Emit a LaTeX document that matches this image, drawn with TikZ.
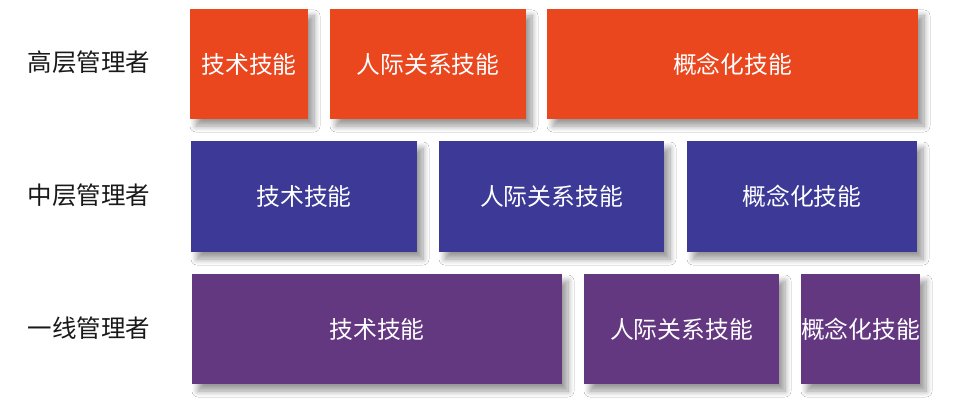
\documentclass[tikz,border=0pt]{standalone}
\usepackage{fontspec}
\setmainfont{Noto Sans CJK SC}
\newfontfamily\cjk{Noto Sans CJK SC}
\usetikzlibrary{shadows.blur}
\definecolor{topc}{HTML}{EA471F}
\definecolor{midc}{HTML}{3C3A96}
\definecolor{lowc}{HTML}{633880}
\tikzset{
  skill/.style={rectangle, inner sep=0pt, text=white, font=\cjk\fontsize{23.8}{28}\selectfont,
    blur shadow={shadow xshift=6pt, shadow yshift=-7pt, shadow blur steps=10, shadow blur radius=6pt, shadow opacity=40}},
  lvl/.style={font=\cjk\fontsize{24.5}{29}\selectfont, text=black!90},
}
\begin{document}
\begin{tikzpicture}[x=1pt,y=-1pt]
\useasboundingbox[fill=white] (0,0) rectangle (971,409);
% row 1
\node[lvl] (l1) at (89,62) {高层管理者};
\node[skill, fill=topc, minimum width=118pt, minimum height=110pt] (a1) at (249,64) {技术技能};
\node[skill, fill=topc, minimum width=196pt, minimum height=110pt] (a2) at (428,64) {人际关系技能};
\node[skill, fill=topc, minimum width=371pt, minimum height=110pt] (a3) at (732.5,64) {概念化技能};
% row 2
\node[lvl] (l2) at (89,195) {中层管理者};
\node[skill, fill=midc, minimum width=226pt, minimum height=111pt] (b1) at (304,196.5) {技术技能};
\node[skill, fill=midc, minimum width=225pt, minimum height=111pt] (b2) at (551.5,196.5) {人际关系技能};
\node[skill, fill=midc, minimum width=230pt, minimum height=111pt] (b3) at (802,196.5) {概念化技能};
% row 3
\node[lvl] (l3) at (89,328) {一线管理者};
\node[skill, fill=lowc, minimum width=370pt, minimum height=110pt] (c1) at (377,329) {技术技能};
\node[skill, fill=lowc, minimum width=195pt, minimum height=110pt] (c2) at (681.5,329) {人际关系技能};
\node[skill, fill=lowc, minimum width=117pt, minimum height=110pt] (c3) at (860.5,329) {概念化技能};
\end{tikzpicture}
\end{document}
